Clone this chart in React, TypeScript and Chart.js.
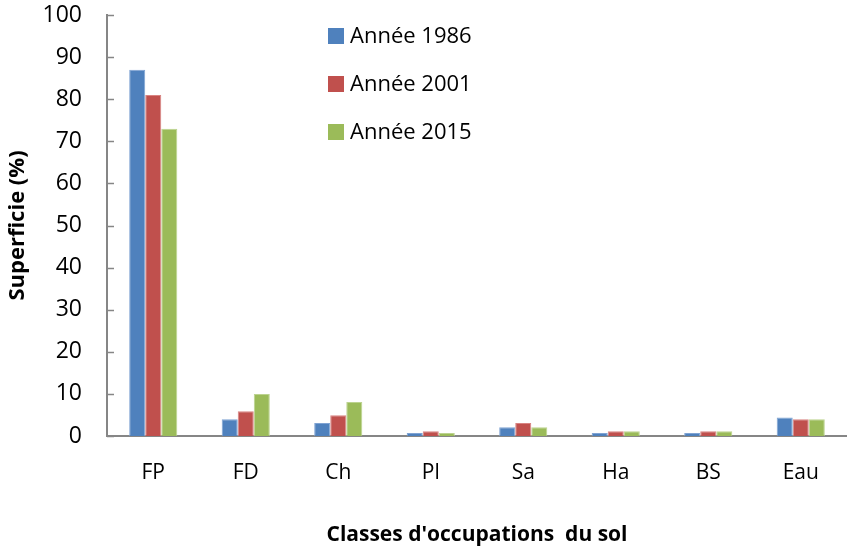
import React, { useEffect, useRef } from "react";
import { Chart, registerables } from "chart.js";

Chart.register(...registerables);

const categories = ["FP", "FD", "Ch", "Pl", "Sa", "Ha", "BS", "Eau"];
const seriesNames = ["Année 1986", "Année 2001", "Année 2015"];
const values1986 = [87, 4, 3.1, 0.7, 2.1, 0.7, 0.7, 4.4];
const values2001 = [81, 5.9, 4.9, 1.1, 3.1, 1.1, 1.1, 4];
const values2015 = [73, 10, 8.1, 0.7, 2.1, 1.1, 1.1, 4];
const colors = ["#4F81BD", "#C0504D", "#9BBB59"];
const borderColors = ["#7FA3D3", "#D98381", "#BCD38F"];
const yTitle = "Superficie (%)";
const xTitle = "Classes d'occupations  du sol";

const FONT = "'Open Sans', 'Liberation Sans', sans-serif";
const AXIS_COLOR = "#868686";

const legendPlugin = {
  id: "insideLegend",
  afterDraw(chart: any) {
    const ctx = chart.ctx;
    const y = chart.scales.y;
    const left = chart.chartArea.left;
    ctx.save();
    // inward tick marks on y axis
    ctx.strokeStyle = AXIS_COLOR;
    ctx.lineWidth = 1.5;
    y.ticks.forEach((t: any) => {
      const py = Math.round(y.getPixelForValue(t.value)) + 0.5;
      ctx.beginPath();
      ctx.moveTo(left, py);
      ctx.lineTo(left + 7, py);
      ctx.stroke();
    });
    // legend
    const lx = 328;
    const rows = [36, 84, 132];
    ctx.font = `22px ${FONT}`;
    ctx.textBaseline = "middle";
    ctx.textAlign = "left";
    chart.data.datasets.forEach((ds: any, i: number) => {
      ctx.fillStyle = colors[i];
      ctx.fillRect(lx, rows[i] - 8, 16, 16);
      ctx.fillStyle = "#000";
      ctx.fillText(ds.label, lx + 22, rows[i] + 1);
    });
    ctx.restore();
  },
};

export default function App() {
  const ref = useRef<HTMLCanvasElement | null>(null);
  useEffect(() => {
    if (!ref.current) return;
    const data = [values1986, values2001, values2015];
    const chart = new Chart(ref.current, {
      type: "bar",
      data: {
        labels: categories,
        datasets: seriesNames.map((name, i) => ({
          label: name,
          data: data[i],
          backgroundColor: colors[i],
          borderColor: borderColors[i],
          borderWidth: 1,
          categoryPercentage: 0.52,
          barPercentage: 1,
        })),
      },
      options: {
        responsive: false,
        animation: false,
        layout: { padding: { top: 15, right: 0, left: 0, bottom: 0 } },
        plugins: {
          legend: { display: false },
          tooltip: { enabled: false },
        },
        scales: {
          x: {
            grid: { display: false, drawTicks: false },
            border: { display: true, color: AXIS_COLOR, width: 2 },
            ticks: { color: "#000", font: { family: FONT, size: 21 }, padding: 24 },
            title: {
              display: true,
              text: xTitle,
              color: "#000",
              font: { family: FONT, size: 21, weight: "bold" },
              padding: { top: 0, bottom: 3 },
            },
            afterFit: (s: any) => {
              s.height = 115;
            },
          },
          y: {
            min: 0,
            max: 100,
            grid: { display: false, drawTicks: false },
            border: { display: true, color: AXIS_COLOR, width: 2 },
            ticks: { stepSize: 10, color: "#000", font: { family: FONT, size: 23 }, padding: 25 },
            title: {
              display: true,
              text: yTitle,
              color: "#000",
              font: { family: FONT, size: 22, weight: "bold" },
              padding: { top: 5, bottom: 0 },
            },
            afterFit: (s: any) => {
              s.width = 107;
              s.paddingTop = 0;
              s.paddingBottom = 0;
            },
          },
        },
      },
      plugins: [legendPlugin],
    });
    return () => chart.destroy();
  }, []);
  return (
    <div style={{ position: "fixed", left: 0, top: 0, width: 847, height: 551, background: "#fff" }}>
      <canvas ref={ref} width={847} height={551} />
    </div>
  );
}
